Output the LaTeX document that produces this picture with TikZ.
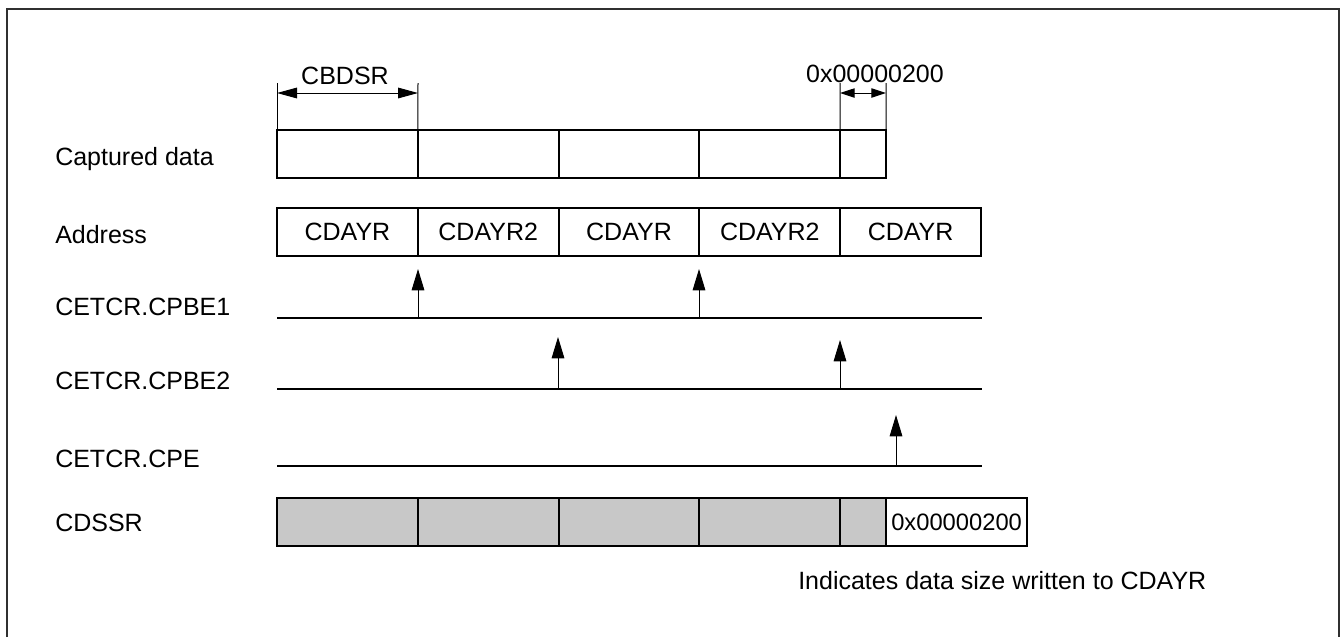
\documentclass[tikz,border=0pt]{standalone}
\usepackage{fontspec}
\setmainfont{Liberation Sans}
\usetikzlibrary{arrows.meta,positioning}
\definecolor{Ink}{HTML}{000000}
\definecolor{Frame}{HTML}{303030}
\definecolor{CellGray}{HTML}{C8C8C8}
\tikzset{
  cell/.style={
    draw=Ink, line width=1.5pt, minimum width=105.6pt,
    minimum height=36pt, inner sep=0pt, outer sep=0pt
  },
  narrowcell/.style={cell, minimum width=34.5pt},
  sizecell/.style={cell, fill=CellGray},
  rowlabel/.style={anchor=base west, inner sep=0pt},
  signal/.style={line width=1.5pt, draw=Ink},
  trigger/.style={-{Triangle[length=16pt,width=9.5pt]}, line width=0.75pt, draw=Ink},
  dimline/.style={{Triangle[length=15pt,width=8pt]}-{Triangle[length=15pt,width=8pt]}, line width=0.75pt},
  smalldim/.style={{Triangle[length=11pt,width=7pt]}-{Triangle[length=11pt,width=7pt]}, line width=0.75pt},
  dimtick/.style={line width=0.75pt, draw=Ink}
}

\begin{document}
\begin{tikzpicture}[x=0.75pt,y=-0.75pt,font=\fontsize{18.75}{22}\selectfont]
    \useasboundingbox (0,0) rectangle (1341,637);
    \draw[line width=1.5pt, draw=Frame] (7,637) -- (7,9) -- (1339,9) -- (1339,637);

    % row labels
    \node[rowlabel] (lcap) at (55,165) {Captured data};
    \node[rowlabel] (ladr) at (55,243) {Address};
    \node[rowlabel] (lbe1) at (55,315) {CETCR.CPBE1};
    \node[rowlabel] (lbe2) at (55,389) {CETCR.CPBE2};
    \node[rowlabel] (lcpe) at (55,467) {CETCR.CPE};
    \node[rowlabel] (lsr) at (55,531) {CDSSR};

    % captured data
    \node[cell,anchor=north west] (cap1) at (277,130) {};
    \node[cell,right=0pt of cap1] (cap2) {};
    \node[cell,right=0pt of cap2] (cap3) {};
    \node[cell,right=0pt of cap3] (cap4) {};
    \node[narrowcell,right=0pt of cap4] (cap5) {};

    % address
    \node[cell,anchor=north west] (adr1) at (277,208) {CDAYR};
    \node[cell,right=0pt of adr1] (adr2) {CDAYR2};
    \node[cell,right=0pt of adr2] (adr3) {CDAYR};
    \node[cell,right=0pt of adr3] (adr4) {CDAYR2};
    \node[cell,right=0pt of adr4] (adr5) {CDAYR};

    % CDSSR
    \node[sizecell,anchor=north west] (sr1) at (277,498) {};
    \node[sizecell,right=0pt of sr1] (sr2) {};
    \node[sizecell,right=0pt of sr2] (sr3) {};
    \node[sizecell,right=0pt of sr3] (sr4) {};
    \node[sizecell,narrowcell,right=0pt of sr4] (sr5) {};
    \node[cell,right=0pt of sr5,font=\fontsize{17.8}{20}\selectfont] (sr6) {0x00000200};

    % signal lines
    \coordinate (be1s) at (277,318); \coordinate (be1e) at (982,318);
    \coordinate (be2s) at (277,389); \coordinate (be2e) at (982,389);
    \coordinate (cpes) at (277,466); \coordinate (cpee) at (982,466);
    \draw[signal] (be1s) -- (be1e);
    \draw[signal] (be2s) -- (be2e);
    \draw[signal] (cpes) -- (cpee);

    % trigger arrows
    \foreach \xx/\yy/\tt [count=\i] in {418/318/269, 699/318/269, 558/389/337, 840/389/340, 896/466/415} {
      \coordinate (trg\i) at (\xx,\yy);
      \coordinate (tip\i) at (\xx,\tt);
      \draw[trigger] (trg\i) -- (tip\i);
    }

    % dimensions
    \coordinate (tka) at (277,83); \coordinate (tkb) at (418,83);
    \coordinate (tkc) at (840,83); \coordinate (tkd) at (886,83);
    \draw[dimtick] (cap1.north west) -- (tka);
    \draw[dimtick] (cap1.north east) -- (tkb);
    \draw[dimtick] (cap5.north west) -- (tkc);
    \draw[dimtick] (cap5.north east) -- (tkd);
    \coordinate (da) at (277,93); \coordinate (db) at (418,93);
    \coordinate (dc) at (840,93); \coordinate (dd) at (886,93);
    \draw[dimline] (da) -- (db);
    \draw[smalldim] (dc) -- (dd);
    \node[anchor=base,inner sep=0pt] (cbdsr) at (345,84) {CBDSR};
    \node[anchor=base,inner sep=0pt] (blk) at (875,82) {0x00000200};

    \node[anchor=base west,inner sep=0pt] (note) at (798,589) {Indicates data size written to CDAYR};
\end{tikzpicture}
\end{document}
